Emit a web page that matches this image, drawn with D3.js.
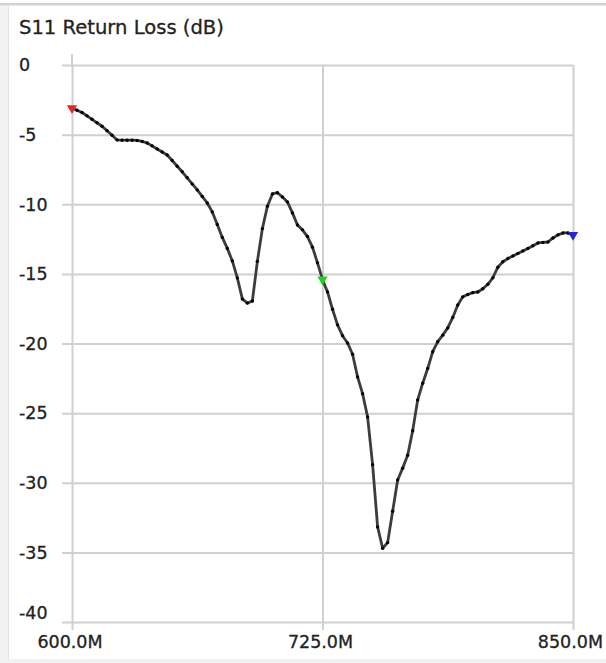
<!DOCTYPE html>
<html>
<head>
<meta charset="utf-8">
<script src="https://cdn.jsdelivr.net/npm/d3@7"></script>
<style>
  html, body { margin: 0; padding: 0; background: #ffffff; }
  svg { display: block; }
  text { font-family: "DejaVu Sans", Verdana, sans-serif; fill: #222222; stroke: #222222; stroke-width: 0.3px; }
</style>
</head>
<body>
<svg id="chart" width="606" height="663"></svg>
<script>
// S11 sweep, 101 points from 600 MHz to 850 MHz (2.5 MHz step)
const chartTitle = "S11 Return Loss (dB)";
const sweepStartMHz = 600;
const sweepStepMHz = 2.5;
const s11dB = [
  -3.10, -3.25, -3.41, -3.65, -3.90, -4.15, -4.40, -4.72, -5.05, -5.38,
  -5.40, -5.40, -5.40, -5.42, -5.49, -5.60, -5.81, -6.03, -6.25, -6.46,
  -6.86, -7.27, -7.67, -8.10, -8.54, -8.97, -9.44, -9.91, -10.55, -11.45,
  -12.38, -13.17, -14.07, -15.29, -16.80, -17.10, -16.95, -14.10, -11.75, -10.14,
  -9.26, -9.17, -9.48, -9.83, -10.62, -11.49, -11.84, -12.32, -13.08, -14.21,
  -15.40, -16.30, -17.54, -18.66, -19.44, -19.96, -20.77, -22.40, -23.60, -25.27,
  -28.70, -33.17, -34.70, -34.30, -32.05, -29.80, -28.95, -28.02, -26.27, -24.05,
  -22.85, -21.80, -20.59, -19.87, -19.40, -18.88, -18.13, -17.23, -16.65, -16.48,
  -16.35, -16.30, -16.07, -15.75, -15.28, -14.52, -14.13, -13.90, -13.71, -13.53,
  -13.35, -13.17, -12.98, -12.78, -12.74, -12.71, -12.42, -12.20, -12.06, -12.06,
  -12.20
];
const yTickValues = [0, -5, -10, -15, -20, -25, -30, -35, -40];
const xTickValues = [600, 725, 850];
const xTickLabels = ["600.0M", "725.0M", "850.0M"];
const markerFreqs = [600, 725, 850];
const markerColors = ["#e02a2a", "#22d022", "#2626d6"];

const points = s11dB.map((v, i) => ({ f: sweepStartMHz + i * sweepStepMHz, db: v }));

const svg = d3.select("#chart");
const W = 606, H = 663;

// window frame
svg.append("rect").attr("x", 0).attr("y", 0).attr("width", W).attr("height", H).attr("fill", "#ffffff");
svg.append("rect").attr("x", 0).attr("y", 3).attr("width", 8).attr("height", H - 3).attr("fill", "#f2f2f2");
svg.append("rect").attr("x", 0).attr("y", 659).attr("width", W).attr("height", 4).attr("fill", "#f2f2f2");
svg.append("rect").attr("x", 0).attr("y", 3).attr("width", W).attr("height", 2.5).attr("fill", "#d2d2d2");
svg.append("rect").attr("x", 8).attr("y", 5).attr("width", 1).attr("height", 654).attr("fill", "#e4e4e4");

const x = d3.scaleLinear().domain([600, 850]).range([72, 573]);
const y = d3.scaleLinear().domain([0, -40]).range([65, 622]);

const gridColor = "#d0d0d0";

// horizontal grid lines, running out to the left as ticks
const gy = svg.append("g").attr("transform", "translate(573,0)")
  .call(d3.axisLeft(y).tickValues(yTickValues).tickSize(573 - 62).tickFormat(""));
gy.select(".domain").remove();
gy.selectAll(".tick line").attr("stroke", gridColor).attr("stroke-width", 2);

// vertical grid lines, running down as ticks
const gx = svg.append("g").attr("transform", "translate(0,65)")
  .call(d3.axisBottom(x).tickValues(xTickValues).tickSize(630 - 65).tickFormat(""));
gx.select(".domain").remove();
gx.selectAll(".tick line").attr("stroke", gridColor).attr("stroke-width", 2);
// left axis line reaches a little above the top grid line
svg.append("line").attr("x1", x(600)).attr("x2", x(600)).attr("y1", 54).attr("y2", 66)
  .attr("stroke", gridColor).attr("stroke-width", 2);

// y tick labels
svg.append("g").selectAll("text").data(yTickValues).join("text")
  .attr("x", 19)
  .attr("y", d => d === -40 ? y(d) - 9 : y(d))
  .attr("dy", "0.36em")
  .attr("font-size", 17.5)
  .text(d => String(d));

// x tick labels
svg.append("g").selectAll("text").data(xTickValues).join("text")
  .attr("x", (d, i) => i === xTickValues.length - 1 ? 603 : x(d) - 2)
  .attr("y", 642)
  .attr("dy", "0.36em")
  .attr("text-anchor", (d, i) => i === xTickValues.length - 1 ? "end" : "middle")
  .attr("font-size", 17.5)
  .text((d, i) => xTickLabels[i]);

// title
const t = svg.append("text").attr("x", 19).attr("y", 27).attr("dy", "0.36em")
  .attr("font-size", 18).text(chartTitle);
const tw = t.node().getComputedTextLength();
t.attr("font-size", 18 * 205 / tw);

// trace
const line = d3.line().x(d => x(d.f)).y(d => y(d.db));
svg.append("path").datum(points).attr("d", line)
  .attr("fill", "none").attr("stroke", "#3c3c3c").attr("stroke-width", 2.8)
  .attr("stroke-linejoin", "round");
svg.append("g").selectAll("circle").data(points).join("circle")
  .attr("cx", d => x(d.f)).attr("cy", d => y(d.db)).attr("r", 1.7).attr("fill", "#050505");

// markers (downward triangles)
const markerData = markerFreqs.map((f, i) => ({
  f, color: markerColors[i],
  db: points.find(p => p.f === f).db
}));
const tri = d3.symbol().type(d3.symbolTriangle).size(46);
svg.append("g").selectAll("path").data(markerData).join("path")
  .attr("d", tri)
  .attr("transform", d => `translate(${x(d.f)},${y(d.db)}) rotate(180)`)
  .attr("fill", d => d.color);
</script>
</body>
</html>
